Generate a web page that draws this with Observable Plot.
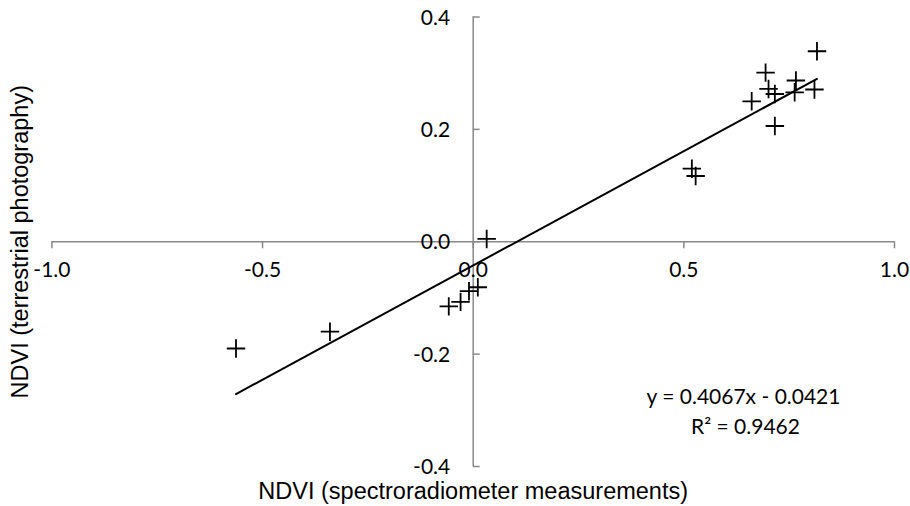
<!DOCTYPE html>
<html><head><meta charset="utf-8">
<script src="https://cdn.jsdelivr.net/npm/d3@7"></script>
<script src="https://cdn.jsdelivr.net/npm/@observablehq/plot@0.6"></script>
<style>body{margin:0;background:#fff}</style>
</head><body><div id="chart"></div>
<script>
// Data
const xValues = [0.816, 0.694, 0.701, 0.716, 0.766, 0.763, 0.810, 0.661, 0.716,
                 0.519, 0.528,
                 0.032, 0.011, -0.010, -0.030, -0.058,
                 -0.563, -0.340];
const yValues = [0.339, 0.301, 0.272, 0.263, 0.287, 0.266, 0.271, 0.250, 0.206,
                 0.130, 0.117,
                 0.005, -0.081, -0.088, -0.107, -0.115,
                 -0.190, -0.160];
const xTicks = [-1, -0.5, 0, 0.5, 1];
const xTickLabels = ["-1.0", "-0.5", "0.0", "0.5", "1.0"];
const yTicks = [0.4, 0.2, 0, -0.2, -0.4];
const yTickLabels = ["0.4", "0.2", "0.0", "-0.2", "-0.4"];
const slope = 0.4067;
const intercept = -0.0421;
const equationLines = ["y = 0.4067x - 0.0421", "R² = 0.9462"];
const xTitle = "NDVI (spectroradiometer measurements)";
const yTitle = "NDVI (terrestrial photography)";

const points = xValues.map((x, i) => ({x, y: yValues[i]}));
const xMin = d3.min(xValues), xMax = d3.max(xValues);
const trend = [xMin, xMax].map(x => ({x, y: slope * x + intercept}));

const axisColor = "#898989";
const tickFont = "Lato, 'Open Sans', sans-serif";
const titleFont = "'Liberation Sans', Arial, sans-serif";

const chart = Plot.plot({
  width: 910,
  height: 506,
  marginLeft: 51.4,
  marginRight: 16,
  marginTop: 16.5,
  marginBottom: 40,
  x: {domain: [-1, 1], axis: null},
  y: {domain: [-0.4, 0.4], axis: null},
  style: {background: "#fff", overflow: "visible"},
  marks: [
    // axes crossing at origin
    Plot.ruleY([0], {stroke: axisColor, strokeWidth: 1.5, x1: -1, x2: 1}),
    Plot.ruleX([0], {stroke: axisColor, strokeWidth: 1.5, y1: -0.4, y2: 0.4}),
    Plot.ruleX(xTicks, {x: d => d, y1: 0, y2: 0, insetBottom: -7, stroke: axisColor, strokeWidth: 1.5}),
    Plot.ruleY(yTicks, {y: d => d, x1: 0, x2: 0, insetRight: -7, stroke: axisColor, strokeWidth: 1.5}),
    // tick labels
    Plot.text(xTicks, {x: d => d, y: 0, dy: 29, text: (d, i) => xTickLabels[i],
      fontFamily: tickFont, fontSize: 21, fill: "#000"}),
    Plot.text(yTicks, {x: 0, y: d => d, dx: -23, dy: 1, text: (d, i) => yTickLabels[i],
      textAnchor: "end", fontFamily: tickFont, fontSize: 21, fill: "#000"}),
    // trend line
    Plot.line(trend, {x: "x", y: "y", stroke: "#000", strokeWidth: 2}),
    // data points
    Plot.dot(points, {x: "x", y: "y", symbol: "plus", r: 6, stroke: "#000", strokeWidth: 1.8}),
    // equation annotation
    Plot.text([equationLines[0]], {frameAnchor: "bottom-right", dx: -151, dy: -63,
      textAnchor: "middle", fontFamily: tickFont, fontSize: 21, fill: "#000"}),
    Plot.text([equationLines[1]], {frameAnchor: "bottom-right", dx: -149, dy: -33,
      textAnchor: "middle", fontFamily: tickFont, fontSize: 21, fill: "#000"}),
    // axis titles
    Plot.text([xTitle], {frameAnchor: "bottom", dy: 32, fontFamily: titleFont, fontSize: 23.5, fill: "#000"}),
    Plot.text([yTitle], {frameAnchor: "left", dx: -31, rotate: -90, textAnchor: "middle",
      fontFamily: titleFont, fontSize: 23.5, fill: "#000"})
  ]
});
document.getElementById("chart").appendChild(chart);
</script>
</body></html>
